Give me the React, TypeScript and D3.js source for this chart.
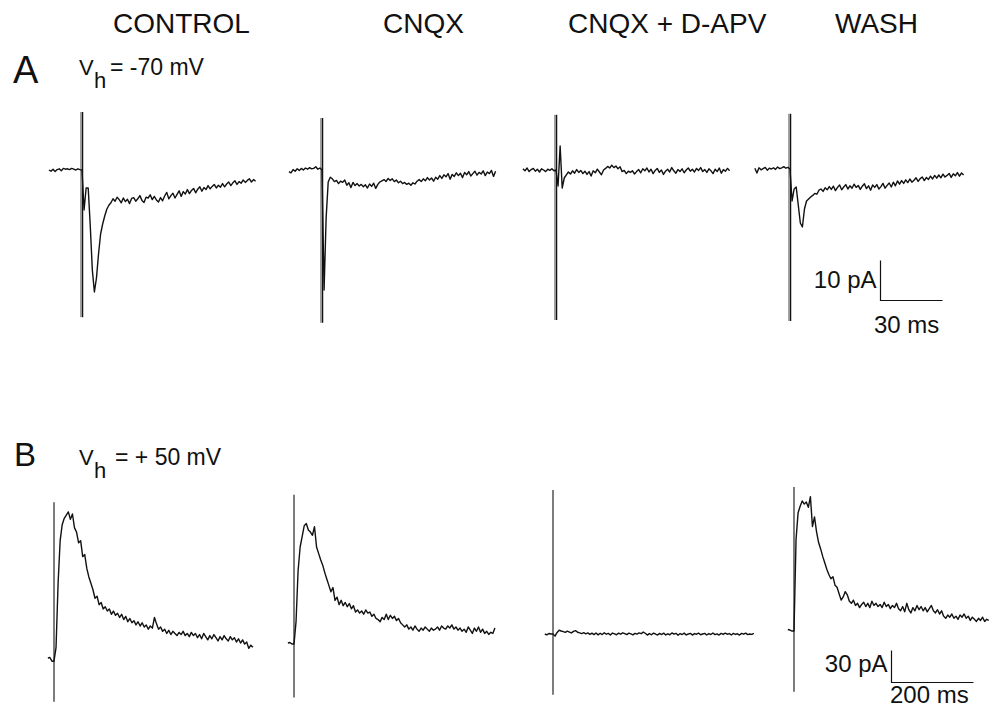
import React from "react";
import * as d3 from "d3";

const conditions = ["CONTROL", "CNQX", "CNQX + D-APV", "WASH"];

// Row A: Vh = -70 mV, one sample per ms, currents in pA (0 = holding baseline)
const dtA = 1;
const startA = [-16, -16, -16, -17];

const controlA = [
  0, -0.3, 0.2, -0.4, 0.1, 0.3, -0.2, 0.4, 0.2, 0.3, 0.1, 0.4, 0.2, 0, 0.3, 0.1,
  0,
  -10, -4.5, -4.5, -14, -25, -30.5, -27, -21, -16, -13.5, -11.5, -9.8, -8.8, -8.2, -7.2, -7.8, -6.8, -7.4,
  -8.2, -7.0, -7.9, -7.3, -8.4, -7.1, -6.9, -7.8, -7.2, -6.4, -7.6, -8.1, -6.8, -7.0, -6.2, -7.4,
  -6.6, -7.5, -8.0, -6.9, -7.7, -6.5, -5.6, -7.2, -6.4, -5.8, -7.0, -6.1, -5.2, -6.6, -5.4, -6.0,
  -4.9, -5.9, -5.1, -4.6, -5.7, -4.8, -4.2, -5.3, -4.4, -4.9, -3.9, -4.7, -4.1, -3.6, -4.5, -3.8,
  -4.3, -3.4, -4.2, -3.5, -3.0, -3.9, -3.2, -2.7, -3.6, -2.9, -3.3, -2.5, -3.1, -2.6, -2.2, -3.0,
  -2.4, -2.8,
];

const cnqxA = [
  -0.4, -0.7, 0.1, -0.3, 0.3, -0.1, 0.4, 0.0, 0.5, 0.2, 0.6, 0.3, 0.4, 0.8, 0.2, 0.5,
  0,
  -30, -12, -3.0, -1.8, -2.2, -2.9, -2.6, -3.4, -2.8, -3.1, -2.5, -3.8, -3.2, -4.4, -3.1, -3.9,
  -3.4, -4.0, -3.6, -4.2, -3.7, -4.5, -3.5, -4.1, -3.3, -4.6, -3.6, -3.0, -2.7, -2.4, -2.9, -2.1,
  -2.6, -2.2, -2.9, -2.5, -3.2, -2.8, -3.4, -3.1, -3.6, -3.3, -3.8, -3.2, -3.5, -2.8, -2.4, -2.9,
  -2.2, -2.7, -1.9, -2.5, -2.0, -2.8, -1.8, -2.3, -1.4, -2.1, -1.2, -1.7, -0.9, -2.3, -1.1, -1.6,
  -0.7, -1.4, -0.8, -1.9, -0.6, -1.2, -0.4, -1.5, -0.9, -0.3, -1.3, -0.6, -1.0, -0.2, -1.4, -0.5,
  -0.9, -0.1, -1.6, -0.3,
];

const apvA = [
  0.3, -0.2, 0.5, -0.4, 0.1, 0.4, -0.3, 0.2, -0.5, 0.3, 0.0, -0.4, 0.2, -0.1, 0.3, -0.2,
  0,
  -4.0, 6.0, -4.5, -2.0, -1.2, -0.5, -1.0, -0.2, -0.8, 0.1, -0.6, -0.1, -0.9, -0.3, -1.1, -0.4,
  -1.5, -0.2, -0.7, 0.2, -0.5, -1.2, 0.0, 0.4, 0.9, 0.5, 1.2, 0.6, 1.0, 0.3, 0.8, -0.4,
  -0.1, -0.9, -0.3, -0.6, -0.2, -1.0, -0.4, 0.1, -0.7, 0.3, -0.2, 0.5, -0.5, 0.2, -0.9, -0.1,
  0.4, -0.6, 0.0, -1.1, -0.3, 0.2, -0.5, 0.6, -0.2, -0.8, 0.1, -0.4, 0.3, -0.7, 0.0, 0.5,
  -0.3, 0.2, -0.5, 0.4, -0.1, 0.6, -0.4, 0.1, -0.6, 0.3, -0.2, -0.9, 0.2, -0.4, 0.5, -0.8,
  0.1, -0.3, 0.4, -0.2,
];

const washA = [
  0.2, -1.0, 0.3, -0.2, 0.1, 0.4, -0.3, 0.2, 0.0, 0.3, -0.1, 0.5, 0.1, 0.3, 0.6, 0.2, 0.4,
  0,
  -8, -5, -4.5, -9, -13.5, -14.5, -10, -8, -7.5, -7, -6.6, -6.1, -6.3, -5.3, -5.0, -5.6,
  -4.7, -5.2, -4.4, -5.1, -4.3, -5.4, -4.6, -4.0, -5.2, -4.5, -3.9, -5.0, -4.2, -4.8, -3.8, -4.6,
  -4.1, -5.1, -4.3, -3.7, -4.9, -4.2, -5.3, -4.0, -4.6, -3.9, -5.0, -4.4, -3.6, -4.8, -4.1, -3.5,
  -4.5, -3.3, -4.2, -3.0, -3.8, -2.9, -3.6, -2.7, -3.4, -2.5, -3.3, -2.8, -2.2, -3.1, -2.4, -2.0,
  -2.9, -2.1, -2.6, -1.8, -2.5, -1.6, -2.3, -1.5, -2.2, -1.3, -2.0, -1.6, -1.1, -2.1, -1.2, -1.7,
  -0.9, -1.8, -1.0, -1.5,
];

// stimulus artifact [top, bottom] in pA
const artifactA = [
  [14.5, -36.8],
  [13, -38.2],
  [13.8, -37.5],
  [13.8, -38],
];

// Row B: Vh = +50 mV, one sample per 5 ms
const dtB = 5;
const startB = [-15, -15, -20, -15];

const controlB = [
  0, 0.5, -3, -3,
  10, 70, 110, 125, 131, 134, 137, 130, 135, 122, 118, 108, 110, 95, 97, 84,
  76, 70, 64, 56, 58, 50, 52, 46, 48, 44, 46, 41, 44, 40, 42, 38,
  41, 36, 39, 34, 37, 33, 35, 31, 34, 30, 33, 29, 31, 27, 30, 28,
  38, 32, 27, 29, 25, 27, 23, 26, 22, 25, 23, 21, 24, 22, 25, 21,
  23, 20, 24, 21, 23, 19, 22, 18, 23, 20, 17, 21, 18, 22, 19, 16,
  20, 17, 21, 18, 16, 20, 17, 19, 15, 18, 14, 17, 13, 15, 9, 12,
  10,
];

const cnqxB = [
  0, 0.5, -1, -1,
  20, 68, 90, 100, 110, 112, 106, 104, 101, 109, 90, 84, 78, 73, 66, 60,
  54, 48, 52, 40, 43, 36, 40, 35, 38, 34, 37, 32, 35, 29, 31, 28,
  30, 27, 31, 28, 29, 25, 27, 23, 22, 20, 24, 22, 27, 22, 26, 23,
  25, 21, 23, 19, 17, 15, 17, 13, 15, 12, 16, 13, 11, 14, 12, 15,
  13, 11, 14, 12, 13, 15, 12, 16, 14, 13, 16, 14, 17, 13, 15, 12,
  14, 11, 13, 10, 15, 12, 9, 14, 11, 15, 10, 13, 9, 11, 8, 10,
  9, 14,
];

const apvB = [
  0, -0.8, 0.5, 0, 0,
  -2, 1.5, 3.5, 2.8, 2.2, 1.5, 2.6, 1.8, 1.0, 2.4, 3.2, 1.6, 1.0, 0.4, 1.2, 0.2,
  1.0, -0.4, 0.8, -0.6, 0.9, -0.8, 0.7, -0.5, 1.1, -0.2, 0.6, -1.0, 0.9, 0.1, -0.7, 0.8,
  -0.2, 1.1, 0.3, -0.6, 0.8, 0.1, -0.8, 0.6, -0.1, 1.0, 0.3, 1.8, 0.7, -1.0, 0.4, -0.7,
  0.8, 0.0, -1.0, 0.6, -0.5, 0.8, -0.9, 0.2, -0.7, 1.0, -0.2, 0.6, -1.2, 0.4, -0.5, 0.8,
  -0.9, 0.0, 0.6, -1.0, 0.4, -0.2, 0.8, -0.7, 0.0, 0.6, -0.9, 0.4, -0.5, 1.0, -0.6, 0.2,
  -1.0, 0.6, -0.4, 0.8, -0.2, 0.4, -0.9, 0.6, -0.4, 0.2, -1.0, 0.6, -0.2, 0.8, -0.6, 0.0,
  -0.4, 0.6,
];

const washB = [
  0.5, 0, -1, -1,
  85, 110, 116, 121, 118, 120, 115, 125, 97, 106, 92, 82, 76, 69, 63, 57,
  52, 48, 50, 42, 40, 34, 28, 31, 36, 33, 27, 25, 28, 23, 25, 21,
  24, 26, 22, 25, 21, 27, 23, 25, 22, 24, 21, 26, 22, 24, 20, 23,
  21, 25, 20, 18, 22, 17, 25, 19, 16, 21, 18, 23, 19, 22, 18, 21,
  17, 20, 23, 18, 16, 19, 15, 18, 13, 11, 14, 12, 15, 11, 13, 10,
  14, 12, 15, 11, 13, 9, 12, 10, 8, 11, 9, 12, 8, 10, 9,
];

const artifactB = [
  [146, -41],
  [139, -51],
  [135, -57],
  [134, -58],
];

const tracesA = [controlA, cnqxA, apvA, washA];
const tracesB = [controlB, cnqxB, apvB, washB];

// layout (pixels)
const W = 989;
const H = 709;
const artXA = [82, 322, 556, 790];
const baseA = [170, 170, 170, 169];
const artXB = [54, 294, 553, 794];
const baseB = [658, 643, 634, 630];
const headerX = [113, 383, 568, 835];
const font = "'Liberation Sans', Arial, Helvetica, sans-serif";

// 30 ms -> 62 px, 10 pA -> 40 px ; 200 ms -> 82 px, 30 pA -> 32 px
const makeScales = (artX: number, base: number, row: "A" | "B") => {
  const x = d3
    .scaleLinear()
    .domain([0, row === "A" ? 30 : 200])
    .range([artX, artX + (row === "A" ? 62 : 82)]);
  const y = d3
    .scaleLinear()
    .domain([0, row === "A" ? 10 : 30])
    .range([base, base - (row === "A" ? 40 : 32)]);
  return { x, y };
};

const Trace = ({ values, start, dt, artifact, artX, base, row }: any) => {
  const { x, y } = makeScales(artX, base, row);
  const line = d3
    .line<number>()
    .x((d, i) => x(start + i * dt))
    .y((d) => y(d));
  const ax = x(0);
  return (
    <g>
      {row === "A" ? (
        <>
          <line x1={ax - 1} x2={ax - 1} y1={y(artifact[0])} y2={y(artifact[1])} stroke="#8a8a8a" strokeWidth={1.6} />
          <line x1={ax + 0.6} x2={ax + 0.6} y1={y(artifact[0])} y2={y(artifact[1])} stroke="#111" strokeWidth={1.3} />
        </>
      ) : (
        <line x1={ax} x2={ax} y1={y(artifact[0])} y2={y(artifact[1])} stroke="#111" strokeWidth={1.1} />
      )}
      <path d={line(values) || ""} fill="none" stroke="#111" strokeWidth={1.4} strokeLinejoin="round" />
    </g>
  );
};

const ScaleBar = ({ cx, cy, row, yLabel, xLabel, yLabelBase, xLabelX, xLabelBase }: any) => {
  const { x, y } = makeScales(cx, cy, row);
  const yAmp = row === "A" ? 10 : 30;
  const xDur = row === "A" ? 30 : 200;
  return (
    <g fontFamily={font} fontSize={24} fill="#111">
      <path
        d={`M${x(0)},${y(yAmp)}V${y(0)}H${x(xDur)}`}
        fill="none"
        stroke="#111"
        strokeWidth={1.2}
      />
      <text x={x(0) - 4} y={yLabelBase} textAnchor="end">{yLabel}</text>
      <text x={xLabelX} y={xLabelBase}>{xLabel}</text>
    </g>
  );
};

export default function App() {
  return (
    <svg
      width={W}
      height={H}
      style={{ position: "absolute", left: 0, top: 0, background: "#fff" }}
    >
      <rect width={W} height={H} fill="#fff" />
      <g fontFamily={font} fill="#111">
        {conditions.map((c, i) => (
          <text key={c} x={headerX[i]} y={33} fontSize={28}>{c}</text>
        ))}
        <text x={13} y={83} fontSize={38}>A</text>
        <text x={79} y={75} fontSize={22}>V</text>
        <text x={94} y={88} fontSize={22}>h</text>
        <text x={110} y={75} fontSize={23}>= -70 mV</text>
        <text x={14} y={466} fontSize={33}>B</text>
        <text x={79} y={465} fontSize={22}>V</text>
        <text x={94} y={478} fontSize={22}>h</text>
        <text x={115} y={465} fontSize={23}>= + 50 mV</text>
      </g>
      {tracesA.map((v, i) => (
        <Trace key={"a" + i} values={v} start={startA[i]} dt={dtA} artifact={artifactA[i]} artX={artXA[i]} base={baseA[i]} row="A" />
      ))}
      {tracesB.map((v, i) => (
        <Trace key={"b" + i} values={v} start={startB[i]} dt={dtB} artifact={artifactB[i]} artX={artXB[i]} base={baseB[i]} row="B" />
      ))}
      <ScaleBar cx={880.5} cy={300.5} row="A" yLabel="10 pA" xLabel="30 ms" yLabelBase={288} xLabelX={874} xLabelBase={333} />
      <ScaleBar cx={891.5} cy={682.5} row="B" yLabel="30 pA" xLabel="200 ms" yLabelBase={672} xLabelX={890} xLabelBase={703} />
    </svg>
  );
}
